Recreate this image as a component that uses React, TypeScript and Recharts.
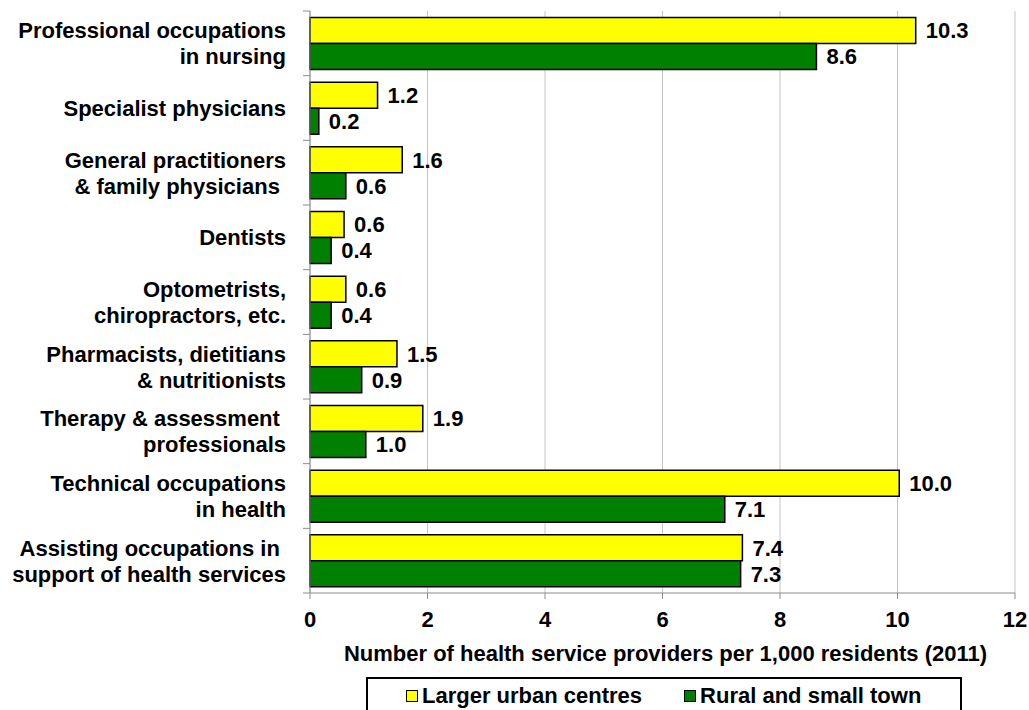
import { Bar, BarChart, CartesianGrid, LabelList, XAxis, YAxis } from "recharts";

const categories = [
  "Professional occupations\nin nursing",
  "Specialist physicians",
  "General practitioners\n& family physicians ",
  "Dentists",
  "Optometrists,\nchiropractors, etc.",
  "Pharmacists, dietitians\n& nutritionists",
  "Therapy & assessment \nprofessionals",
  "Technical occupations\nin health",
  "Assisting occupations in \nsupport of health services",
];

const urbanValues = [10.31, 1.15, 1.57, 0.58, 0.61, 1.48, 1.92, 10.03, 7.36];
const ruralValues = [8.62, 0.15, 0.61, 0.36, 0.36, 0.88, 0.95, 7.06, 7.33];
const urbanLabels = ["10.3", "1.2", "1.6", "0.6", "0.6", "1.5", "1.9", "10.0", "7.4"];
const ruralLabels = ["8.6", "0.2", "0.6", "0.4", "0.4", "0.9", "1.0", "7.1", "7.3"];
const xTicks = [0, 2, 4, 6, 8, 10, 12];

const series = [
  { key: "urban", name: "Larger urban centres", color: "#FFFF00" },
  { key: "rural", name: "Rural and small town", color: "#008000" },
];

const data = categories.map((name, i) => ({
  name,
  urban: urbanValues[i],
  rural: ruralValues[i],
  urbanLabel: urbanLabels[i],
  ruralLabel: ruralLabels[i],
}));

const W = 1029;
const H = 710;
const MARGIN = { top: 11, right: 14, left: 0, bottom: 37 };
const Y_WIDTH = 310;
const X_HEIGHT = 80;
const AXIS_X = MARGIN.left + Y_WIDTH;
const BAND = (H - MARGIN.top - MARGIN.bottom - X_HEIGHT) / categories.length;
const FONT = "'Liberation Sans', Arial, sans-serif";
const AXIS_GRAY = "#8c8c8c";

function CategoryTick(props: any) {
  const { y, payload, index } = props;
  const lines = String(payload.value).split("\n");
  const lh = 26;
  const start = y - ((lines.length - 1) * lh) / 2;
  return (
    <g>
      <line x1={AXIS_X - 7} x2={AXIS_X} y1={y - BAND / 2} y2={y - BAND / 2} stroke={AXIS_GRAY} />
      {index === categories.length - 1 && (
        <line x1={AXIS_X - 7} x2={AXIS_X} y1={y + BAND / 2} y2={y + BAND / 2} stroke={AXIS_GRAY} />
      )}
      <text
        x={AXIS_X - 24}
        y={start}
        textAnchor="end"
        xmlSpace="preserve"
        fontFamily={FONT}
        fontWeight="bold"
        fontSize={22}
        fill="#000"
      >
        {lines.map((l, i) => (
          <tspan key={i} x={AXIS_X - 24} y={start + i * lh} dy="0.36em">
            {l}
          </tspan>
        ))}
      </text>
    </g>
  );
}

function AxisTitle(props: any) {
  const vb = props.viewBox;
  return (
    <text
      x={vb.x + vb.width / 2 + 3}
      y={vb.y + 68}
      textAnchor="middle"
      fontFamily={FONT}
      fontWeight="bold"
      fontSize={22}
      fill="#000"
    >
      Number of health service providers per 1,000 residents (2011)
    </text>
  );
}

export default function App() {
  return (
    <div style={{ position: "absolute", left: 0, top: 0, width: W, height: H, background: "#fff" }}>
      <BarChart
        width={W}
        height={H}
        data={data}
        layout="vertical"
        margin={MARGIN}
        barCategoryGap="10%"
        barGap={0}
      >
        <CartesianGrid horizontal={false} stroke="#c4c4c4" />
        <XAxis
          type="number"
          domain={[0, 12]}
          ticks={xTicks}
          height={X_HEIGHT}
          stroke={AXIS_GRAY}
          tickSize={6}
          tickMargin={12}
          tick={{ fill: "#000", fontSize: 22, fontWeight: "bold", fontFamily: FONT }}
          label={<AxisTitle />}
        />
        <YAxis
          type="category"
          dataKey="name"
          width={Y_WIDTH}
          stroke={AXIS_GRAY}
          tickLine={false}
          interval={0}
          tick={<CategoryTick />}
        />
        {series.map((s) => (
          <Bar
            key={s.key}
            dataKey={s.key}
            name={s.name}
            fill={s.color}
            stroke="#000"
            strokeWidth={1.5}
            isAnimationActive={false}
          >
            <LabelList
              dataKey={s.key + "Label"}
              position="right"
              offset={10}
              fill="#000"
              fontSize={22}
              fontWeight="bold"
              fontFamily={FONT}
            />
          </Bar>
        ))}
      </BarChart>
      <div
        style={{
          position: "absolute",
          left: 366,
          top: 677,
          width: 596,
          height: 40,
          border: "2px solid #000",
          boxSizing: "border-box",
          display: "flex",
          alignItems: "flex-start",
          paddingTop: 4,
          paddingLeft: 38,
          fontFamily: FONT,
          fontWeight: "bold",
          fontSize: 22,
          color: "#000",
          background: "#fff",
        }}
      >
        {series.map((s, i) => (
          <div key={s.key} style={{ display: "flex", alignItems: "center", marginRight: i === 0 ? 42 : 0 }}>
            <span
              style={{
                display: "inline-block",
                width: 10,
                height: 10,
                background: s.color,
                border: "1.5px solid #000",
                marginRight: 4,
              }}
            />
            <span style={{ lineHeight: "26px" }}>{s.name}</span>
          </div>
        ))}
      </div>
    </div>
  );
}
